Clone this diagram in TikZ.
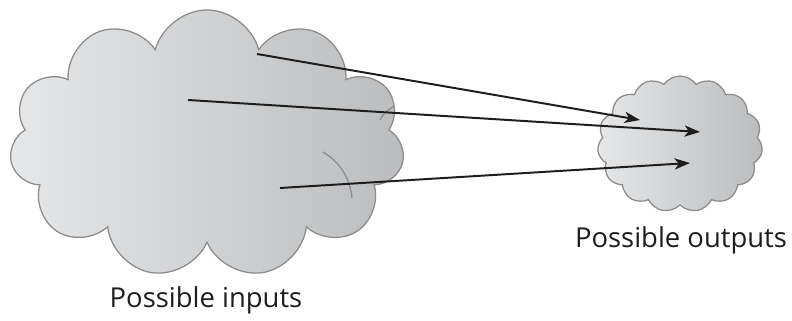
\documentclass[tikz,border=0pt]{standalone}
\usepackage{fontspec}
\setmainfont{Open Sans}
\usetikzlibrary{shapes.symbols,arrows.meta}

\definecolor{cloudedge}{HTML}{8C8C8C}
\definecolor{cloudlight}{HTML}{E6E7E8}
\definecolor{clouddark}{HTML}{BBBCBE}
\definecolor{ink}{HTML}{1E1E1E}

\tikzset{
  puffy/.style={cloud, draw=cloudedge, line width=0.9pt, cloud ignores aspect,
    left color=cloudlight, right color=clouddark},
  fold/.style={draw=cloudedge, line width=0.9pt},
  map/.style={draw=ink, line width=1.4pt, -{Stealth[length=11pt,width=8pt,inset=3pt]}},
  caption/.style={font=\fontsize{19.5}{22}\selectfont, text=ink}
}

\begin{document}
\begin{tikzpicture}[x=0.025cm, y=-0.025cm]
  \useasboundingbox (0,0) rectangle (792,321);

  \node[puffy, cloud puffs=11, minimum width=9.875cm, minimum height=6.7cm] (inputs) at (207,144) {};
  \node[puffy, cloud puffs=15, cloud puff arc=110, minimum width=4.125cm, minimum height=3.4cm] (outputs) at (680,144) {};
  % folds between the puffs of the big cloud
  \draw[fold] (323,152) .. controls (340,162) and (350,178) .. (352,198);
  \draw[fold] (380,120) .. controls (384,113) .. (394,106);

  \node[caption] (inlabel) at (206,300) {Possible inputs};
  \node[caption] (outlabel) at (681,240) {Possible outputs};

  \coordinate (a1) at (257,54);
  \coordinate (a2) at (188,100);
  \coordinate (a3) at (280,188);
  \coordinate (b1) at (640,120);
  \coordinate (b2) at (700,132);
  \coordinate (b3) at (690,163);

  \draw[map] (a1) -- (b1);
  \draw[map] (a2) -- (b2);
  \draw[map] (a3) -- (b3);
\end{tikzpicture}
\end{document}
